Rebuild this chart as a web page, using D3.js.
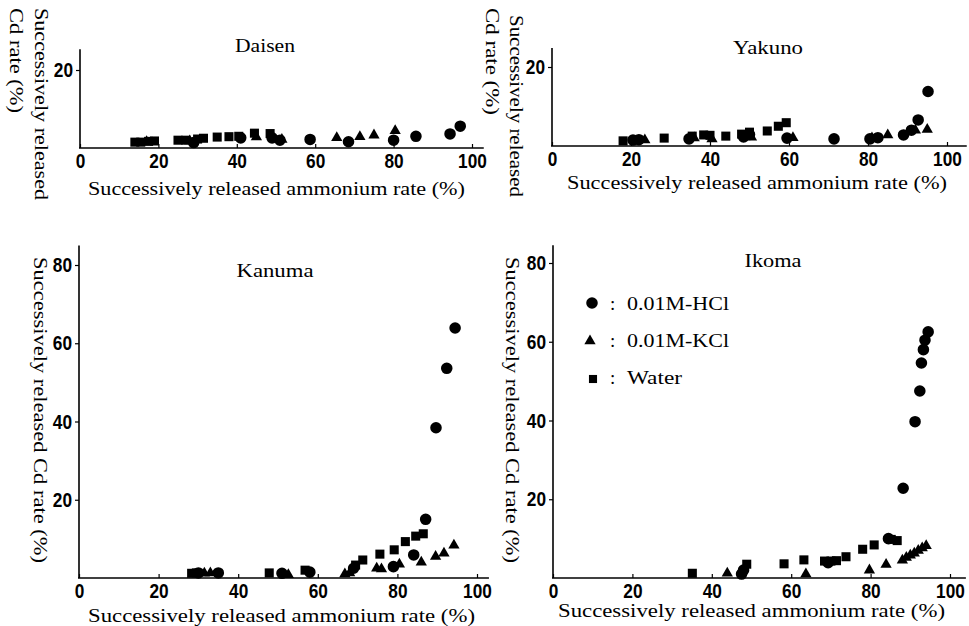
<!DOCTYPE html>
<html><head><meta charset="utf-8">
<script src="https://cdn.jsdelivr.net/npm/d3@7"></script>
<style>body{margin:0;background:#fff}svg{display:block}</style>
</head><body>
<svg id="c" width="969" height="626"></svg>
<script>
// ---------- data ----------
const xTickValues = [0, 20, 40, 60, 80, 100];
const yTickValuesTop = [20];
const yTickValuesBottom = [20, 40, 60, 80];
const seriesNames = ["0.01M-HCl", "0.01M-KCl", "Water"];
const xAxisTitle = "Successively released ammonium rate (%)";

const daisenHCl = [[29,1.4],[41,2.6],[49,2.6],[51,2.0],[58.7,2.2],[68.5,1.6],[80,2.0],[85.7,3.0],[94.4,3.6],[97,5.6]];
const daisenKCl = [[17,1.6],[28,1.8],[45,2.8],[51.5,2.2],[65.5,2.6],[71.4,2.9],[75,3.3],[80.4,4.4]];
const daisenWater = [[14,1.5],[15.5,1.5],[17.5,1.7],[19,1.8],[25,2.0],[27,2.0],[30,2.3],[31.5,2.5],[35,2.8],[38,2.9],[40.5,3.0],[44.5,3.8],[48.5,3.7]];

const yakunoHCl = [[20.5,1.5],[22,1.6],[34.7,1.8],[48.5,2.3],[50,2.9],[59.5,2.0],[71.4,1.8],[80.5,1.8],[82.5,2.1],[89,2.8],[91,4.0],[92.7,6.6],[95.2,13.8]];
const yakunoKCl = [[23.5,1.5],[36,2.0],[40.5,1.8],[50.5,2.2],[61,2.1],[81,2.0],[85,2.8],[92,4.0],[95,4.2]];
const yakunoWater = [[18,1.3],[28.4,2.0],[35.5,2.5],[38.4,2.8],[40,2.7],[44,2.5],[48,3.0],[50,3.5],[54.5,3.8],[57.3,5.0],[59.3,5.9]];

const kanumaHCl = [[30,1.3],[35,1.3],[51,1.2],[58,1.5],[69,2.5],[79,2.9],[84.1,5.9],[87.1,15],[89.7,38.4],[92.4,53.6],[94.5,63.9]];
const kanumaKCl = [[31.5,1.2],[33,1.3],[52.6,0.8],[66.8,1.0],[68,1.3],[74.8,2.5],[76,2.3],[80.5,3.5],[86,4.0],[89.6,5.5],[91.7,6.3],[94.2,8.4]];
const kanumaWater = [[28.3,1.2],[29.5,1.3],[47.8,1.3],[56.8,2.0],[69.5,3.3],[71.3,4.6],[75.6,6.1],[79.2,7.2],[82,9.3],[84.6,10.7],[86.5,11.3]];

const ikomaHCl = [[47.5,1.0],[48,2.0],[69.3,3.9],[84.5,10],[88.2,22.8],[91.2,39.7],[92.4,47.5],[92.8,54.6],[93.3,58],[93.7,60.4],[94.5,62.5]];
const ikomaKCl = [[43.9,1.2],[63.7,1.0],[79.7,2.0],[83.9,3.4],[88,4.5],[89,5.2],[90,5.8],[91,6.3],[92,7.0],[93,7.6],[94,8.2]];
const ikomaWater = [[35.1,1.2],[48.8,3.5],[58.2,3.6],[63.2,4.6],[68.4,4.3],[70,4.3],[71.4,4.4],[73.8,5.4],[78,7.3],[80.9,8.4],[85.2,9.8],[86.7,9.5]];

// ---------- layout ----------
const panels = [
  {name:"Daisen", xr:[80,472], yr:[148,70], yRefVal:20, xMax:103, yMax:25.3, yTicks:yTickValuesTop,
   series:[daisenHCl,daisenKCl,daisenWater],
   title:{x:265,y:52,len:60}, xTitle:{x:88,y:195,len:377},
   yTitle:[{x:35,y:8,len:192,text:"Successively released"},{x:10,y:8,len:105,text:"Cd rate (%)"}]},
  {name:"Yakuno", xr:[552,947], yr:[146,67], yRefVal:20, xMax:105, yMax:24.8, yTicks:yTickValuesTop,
   series:[yakunoHCl,yakunoKCl,yakunoWater],
   title:{x:768,y:54,len:70}, xTitle:{x:567,y:189,len:380},
   yTitle:[{x:510,y:15,len:182,text:"Successively released"},{x:486,y:8,len:107,text:"Cd rate (%)"}]},
  {name:"Kanuma", xr:[79,477], yr:[578,265], yRefVal:80, xMax:103, yMax:85, yTicks:yTickValuesBottom,
   series:[kanumaHCl,kanumaKCl,kanumaWater],
   title:{x:275,y:277,len:77}, xTitle:{x:88,y:622,len:387},
   yTitle:[{x:34,y:257,len:306,text:"Successively released Cd rate (%)"}]},
  {name:"Ikoma", xr:[553,950], yr:[578,263], yRefVal:80, xMax:104, yMax:84.5, yTicks:yTickValuesBottom,
   series:[ikomaHCl,ikomaKCl,ikomaWater],
   title:{x:773,y:267,len:57}, xTitle:{x:558,y:617,len:387},
   yTitle:[{x:506,y:257,len:306,text:"Successively released Cd rate (%)"}],
   legend:true}
];

const serif = "'Liberation Serif','Times New Roman',serif";
const tickFont = "'Liberation Sans','Arial',sans-serif";
const symbolTypes = [d3.symbolCircle, d3.symbolTriangle, d3.symbolSquare];
const symbolSizes = [105, 55, 82];

const svg = d3.select("#c");

panels.forEach(p => {
  const x = d3.scaleLinear().domain([0,100]).range(p.xr);
  const y = d3.scaleLinear().domain([0,p.yRefVal]).range(p.yr);
  const g = svg.append("g");

  // axis lines
  g.append("line").attr("x1",x(0)-1).attr("x2",x(p.xMax)).attr("y1",y(0)).attr("y2",y(0))
    .attr("stroke","#000").attr("stroke-width",1.6);
  g.append("line").attr("x1",x(0)).attr("x2",x(0)).attr("y1",y(0)).attr("y2",y(p.yMax))
    .attr("stroke","#000").attr("stroke-width",1.6);

  const xa = g.append("g").attr("transform",`translate(0,${y(0)})`)
    .call(d3.axisBottom(x).tickValues(xTickValues).tickSize(-4).tickPadding(5).tickFormat(d3.format("d")));
  const ya = g.append("g").attr("transform",`translate(${x(0)},0)`)
    .call(d3.axisLeft(y).tickValues(p.yTicks).tickSize(4).tickPadding(3).tickFormat(d3.format("d")));
  [xa,ya].forEach(a => {
    a.select(".domain").remove();
    a.selectAll("line").attr("stroke","#000").attr("stroke-width",1.2);
    a.selectAll("text").attr("fill","#000").style("font-family",tickFont)
      .style("font-weight","bold").style("font-size","21px")
      .attr("textLength", function(){ return this.textContent.length * 9.6; })
      .attr("lengthAdjust","spacingAndGlyphs");
  });

  // markers
  p.series.forEach((data, si) => {
    const sym = d3.symbol().type(symbolTypes[si]).size(symbolSizes[si]);
    g.append("g").selectAll("path").data(data).join("path")
      .attr("d", sym)
      .attr("transform", d => `translate(${x(d[0])},${y(d[1])})`)
      .attr("fill","#000");
  });

  // title
  g.append("text").attr("x",p.title.x).attr("y",p.title.y).attr("text-anchor","middle")
    .attr("textLength",p.title.len).attr("lengthAdjust","spacingAndGlyphs")
    .style("font-family",serif).style("font-size","19px").text(p.name);

  // x title
  g.append("text").attr("x",p.xTitle.x).attr("y",p.xTitle.y)
    .attr("textLength",p.xTitle.len).attr("lengthAdjust","spacingAndGlyphs")
    .style("font-family",serif).style("font-size","19px").text(xAxisTitle);

  // y title(s)
  p.yTitle.forEach(t => {
    g.append("text").attr("transform",`translate(${t.x},${t.y}) rotate(90)`)
      .attr("textLength",t.len).attr("lengthAdjust","spacingAndGlyphs")
      .style("font-family",serif).style("font-size","19px").text(t.text);
  });

  if (p.legend) {
    const lg = g.append("g");
    const rows = [{mx:592,my:303,ty:310},{mx:590,my:341,ty:347},{mx:593,my:379,ty:384}];
    seriesNames.forEach((s,i) => {
      lg.append("path").attr("d", d3.symbol().type(symbolTypes[i]).size(symbolSizes[i]*(i===2?0.8:1))())
        .attr("transform",`translate(${rows[i].mx},${rows[i].my})`).attr("fill","#000");
      lg.append("text").attr("x",610).attr("y",rows[i].ty)
        .style("font-family",serif).style("font-size","19px").text(":");
      const tl = lg.append("text").attr("x",627).attr("y",rows[i].ty)
        .style("font-family",serif).style("font-size","19px").text(s);
      tl.attr("textLength", i<2 ? 102 : 55).attr("lengthAdjust","spacingAndGlyphs");
    });
  }
});
</script>
</body></html>
